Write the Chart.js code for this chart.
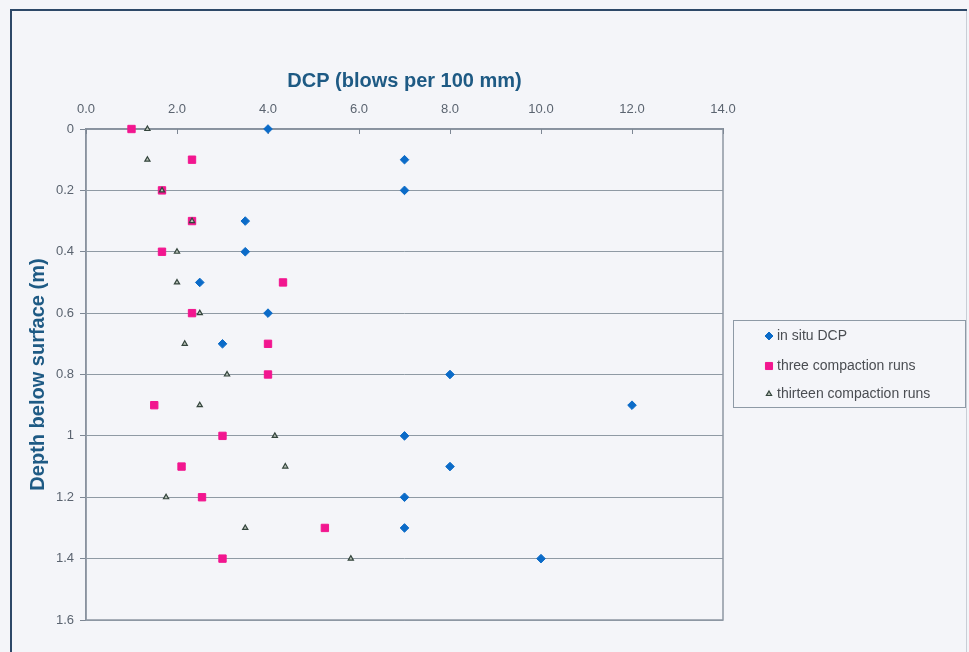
<!DOCTYPE html>
<html><head><meta charset="utf-8">
<script src="https://cdn.jsdelivr.net/npm/chart.js@4.4.1/dist/chart.umd.min.js"></script>
<style>html,body{margin:0;padding:0;background:#f4f5f9;overflow:hidden}#wrap{width:969px;height:652px;position:relative}</style>
</head><body><div id="wrap"><canvas id="c" width="969" height="652"></canvas></div>
<script>
const depths = [0, 0.1, 0.2, 0.3, 0.4, 0.5, 0.6, 0.7, 0.8, 0.9, 1.0, 1.1, 1.2, 1.3, 1.4];
const inSituDCP = [4.0, 7.0, 7.0, 3.5, 3.5, 2.5, 4.0, 3.0, 8.0, 12.0, 7.0, 8.0, 7.0, 7.0, 10.0];
const threeRuns = [1.0, 2.33, 1.67, 2.33, 1.67, 4.33, 2.33, 4.0, 4.0, 1.5, 3.0, 2.1, 2.55, 5.25, 3.0];
const thirteenRuns = [1.35, 1.35, 1.67, 2.33, 2.0, 2.0, 2.5, 2.17, 3.1, 2.5, 4.15, 4.38, 1.76, 3.5, 5.82];
const seriesNames = ['in situ DCP', 'three compaction runs', 'thirteen compaction runs'];
const xTitle = 'DCP (blows per 100 mm)';
const yTitle = 'Depth below surface (m)';

const pair = (vals) => vals.map((v, i) => ({x: v, y: depths[i]}));

const frame = {
  id: 'frame',
  beforeDraw(chart) {
    const c = chart.ctx;
    c.save();
    c.fillStyle = '#f4f5f9';
    c.fillRect(0, 0, chart.width, chart.height);
    c.strokeStyle = '#c9ced6'; c.lineWidth = 1;
    c.beginPath(); c.moveTo(966.5, 10); c.lineTo(966.5, 652); c.stroke();
    c.strokeStyle = '#2d4868'; c.lineWidth = 2;
    c.beginPath(); c.moveTo(11, 652); c.lineTo(11, 10); c.lineTo(967, 10); c.stroke();
    c.restore();
  },
  beforeDatasetsDraw(chart) {
    const c = chart.ctx, a = chart.chartArea;
    c.save();
    c.strokeStyle = '#8d96a2'; c.lineWidth = 1.5;
    c.beginPath();
    c.moveTo(a.left, a.top); c.lineTo(a.right, a.top); c.lineTo(a.right, a.bottom); c.lineTo(a.left, a.bottom); c.closePath();
    c.stroke();
    // inward tick marks on the top axis
    const xs = chart.scales.x;
    c.strokeStyle = '#7d8794'; c.lineWidth = 1;
    xs.ticks.forEach(t => {
      const px = Math.round(xs.getPixelForValue(t.value)) + 0.5;
      c.beginPath(); c.moveTo(px, a.top); c.lineTo(px, a.top + 5); c.stroke();
    });
    c.restore();
  },
  afterDraw(chart) {
    const c = chart.ctx;
    c.save();
    const L = 733, T = 320, W = 232, H = 87;
    c.strokeStyle = '#8e9aa6'; c.lineWidth = 1;
    c.strokeRect(L + 0.5, T + 0.5, W, H);
    c.font = '14px "Liberation Sans", Arial, sans-serif';
    c.textBaseline = 'middle';
    const rows = [336, 366, 394];
    chart.data.datasets.forEach((ds, i) => {
      const y = rows[i];
      c.fillStyle = ds.backgroundColor; c.strokeStyle = ds.borderColor; c.lineWidth = ds.borderWidth;
      Chart.helpers.drawPoint(c, {pointStyle: ds.pointStyle, radius: ds.legendRadius, borderWidth: ds.borderWidth}, 769, y);
      c.fillStyle = '#4a4d52';
      c.fillText(ds.label, 777, y);
    });
    c.restore();
  }
};

new Chart(document.getElementById('c'), {
  type: 'scatter',
  data: {
    datasets: [
      {label: seriesNames[0], data: pair(inSituDCP), pointStyle: 'rectRot', pointRadius: 4.3, legendRadius: 4,
       backgroundColor: '#0b6bc8', borderColor: '#0b6bc8', borderWidth: 1, order: 2, clip: false},
      {label: seriesNames[1], data: pair(threeRuns), pointStyle: 'rect', pointRadius: 5.2, legendRadius: 5,
       backgroundColor: '#f2168f', borderColor: '#f2168f', borderWidth: 1, order: 1, clip: false},
      {label: seriesNames[2], data: pair(thirteenRuns), pointStyle: 'triangle', pointRadius: 3, legendRadius: 3,
       backgroundColor: '#b9c2b8', borderColor: '#34453d', borderWidth: 1.2, order: 0, clip: false}
    ]
  },
  options: {
    responsive: false,
    animation: false,
    devicePixelRatio: 1,
    layout: {padding: {left: 0, top: 0, right: 246, bottom: 32}},
    plugins: {legend: {display: false}, tooltip: {enabled: false}},
    scales: {
      x: {
        type: 'linear', position: 'top', min: 0, max: 14,
        afterFit(s) { s.height = 129; },
        ticks: {stepSize: 2, padding: 12, color: '#5b6470',
          font: {family: '"Liberation Sans", Arial, sans-serif', size: 13},
          callback: v => Number(v).toFixed(1)},
        grid: {drawOnChartArea: false, drawTicks: false},
        border: {display: true, color: '#7d8794', width: 1.5},
        title: {display: true, text: xTitle, color: '#1e5a84', padding: {top: 69, bottom: 0},
          font: {family: '"Liberation Sans", Arial, sans-serif', size: 20, weight: 'bold'}}
      },
      y: {
        type: 'linear', reverse: true, min: 0, max: 1.6,
        afterFit(s) { s.width = 86; },
        ticks: {stepSize: 0.2, padding: 6, color: '#5b6470',
          font: {family: '"Liberation Sans", Arial, sans-serif', size: 13},
          callback: v => String(Number(Number(v).toFixed(1)))},
        grid: {color: '#8f9aa4', lineWidth: 1, tickLength: 6, tickColor: '#7d8794'},
        border: {display: true, color: '#7d8794', width: 1.5},
        title: {display: true, text: yTitle, color: '#1e5a84', padding: {top: 26, bottom: 0},
          font: {family: '"Liberation Sans", Arial, sans-serif', size: 20, weight: 'bold'}}
      }
    }
  },
  plugins: [frame]
});
</script>
</body></html>
